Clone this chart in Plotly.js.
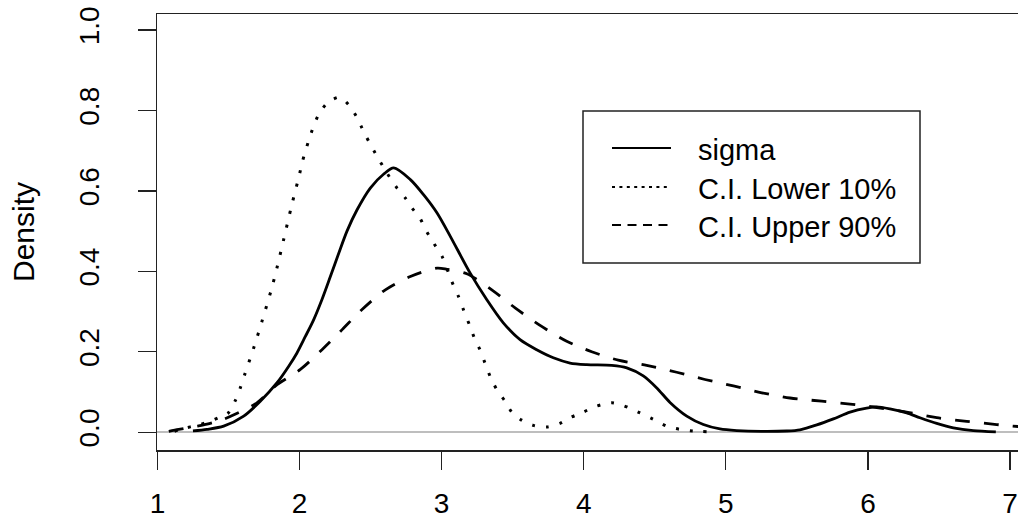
<!DOCTYPE html>
<html>
<head>
<meta charset="utf-8">
<script src="https://cdn.plot.ly/plotly-3.0.1.min.js"></script>
<style>html,body{margin:0;padding:0;background:#fff;}#chart{width:1018px;height:521px;}</style>
</head>
<body>
<div id="chart"></div>
<script>
// ---- data ----
const seriesNames = ["sigma", "C.I. Lower 10%", "C.I. Upper 90%"];

const sigmaX = [1.25,1.349,1.466,1.607,1.724,1.842,1.924,1.982,2.041,2.10,2.158,2.217,2.276,2.334,2.405,2.498,2.593,2.663,2.78,2.874,2.968,3.061,3.2,3.317,3.434,3.552,3.669,3.786,3.904,4.021,4.197,4.303,4.419,4.514,4.607,4.725,4.842,4.959,5.077,5.25,5.429,5.522,5.64,5.757,5.874,5.991,6.062,6.155,6.273,6.366,6.484,6.601,6.742,6.9];
const sigmaY = [0.003,0.007,0.015,0.040,0.077,0.123,0.164,0.197,0.238,0.280,0.330,0.387,0.445,0.500,0.553,0.607,0.642,0.657,0.628,0.590,0.545,0.487,0.396,0.330,0.272,0.230,0.205,0.185,0.172,0.168,0.166,0.160,0.140,0.110,0.074,0.040,0.019,0.008,0.004,0.002,0.003,0.006,0.018,0.033,0.050,0.060,0.063,0.058,0.048,0.036,0.022,0.011,0.004,0.001];

const lowerX = [1.12,1.159,1.30,1.37,1.429,1.499,1.546,1.581,1.612,1.678,1.736,1.806,1.842,1.889,1.942,1.999,2.022,2.088,2.135,2.20,2.283,2.346,2.40,2.44,2.487,2.533,2.616,2.686,2.745,2.792,2.848,2.885,2.944,3.003,3.071,3.118,3.153,3.2,3.235,3.27,3.305,3.341,3.388,3.446,3.493,3.563,3.645,3.739,3.833,3.904,3.997,4.091,4.197,4.279,4.396,4.49,4.584,4.678,4.771,4.865];
const lowerY = [0.002,0.007,0.019,0.027,0.036,0.048,0.077,0.108,0.141,0.210,0.276,0.360,0.410,0.480,0.560,0.640,0.675,0.750,0.790,0.820,0.833,0.814,0.785,0.756,0.723,0.694,0.644,0.607,0.582,0.557,0.532,0.505,0.470,0.437,0.375,0.338,0.305,0.263,0.230,0.205,0.172,0.139,0.106,0.077,0.050,0.030,0.017,0.013,0.022,0.036,0.050,0.065,0.073,0.066,0.048,0.032,0.015,0.007,0.003,0.001];

const upperX = [1.08,1.15,1.277,1.349,1.45,1.55,1.70,1.842,2.006,2.158,2.30,2.44,2.604,2.78,2.968,3.038,3.177,3.353,3.517,3.704,3.88,4.056,4.243,4.443,4.654,4.853,5.053,5.253,5.452,5.675,5.874,6.05,6.242,6.484,6.695,6.906,7.06];
const upperY = [0.002,0.007,0.015,0.020,0.030,0.045,0.073,0.118,0.156,0.205,0.255,0.305,0.354,0.387,0.408,0.405,0.394,0.354,0.309,0.263,0.226,0.200,0.179,0.166,0.149,0.131,0.115,0.098,0.085,0.077,0.070,0.062,0.052,0.036,0.027,0.019,0.014];

const xTicks = [1,2,3,4,5,6,7];
const yTicks = [0,0.2,0.4,0.6,0.8,1.0];
const yTickText = ["0.0","0.2","0.4","0.6","0.8","1.0"];
const yTitle = "Density";

// ---- styles ----
const FONT = "Liberation Sans, Arial, sans-serif";
const W = 1018, H = 521;
const M = {l:157, r:0, t:14, b:71};
const PW = W - M.l - M.r, PH = H - M.t - M.b;
const px = v => (v - M.l) / PW;          // pixel -> paper x
const py = v => (H - M.b - v) / PH;      // pixel -> paper y

const styles = [
  {dash:"solid", width:2.8},
  {dash:"3px,11px", width:3},
  {dash:"15px,14px", width:2.8}
];
const legendDash = ["solid", "3px,4.4px", "9px,6.5px"];

const traces = [
  {x:sigmaX, y:sigmaY},
  {x:lowerX, y:lowerY},
  {x:upperX, y:upperY}
].map((d,i) => ({
  type:"scatter", mode:"lines", x:d.x, y:d.y, name:seriesNames[i],
  line:{color:"#000", width:styles[i].width, dash:styles[i].dash, shape:"spline", smoothing:0.8},
  showlegend:false, hoverinfo:"skip"
}));

// manual R-style legend
const shapes = [{
  type:"rect", xref:"paper", yref:"paper",
  x0:px(583), x1:px(920), y0:py(263), y1:py(111),
  line:{color:"#222", width:1.5}, fillcolor:"rgba(0,0,0,0)"
}];
const annotations = [];
const rowY = [148, 187, 225];
seriesNames.forEach((n,i) => {
  shapes.push({type:"line", xref:"paper", yref:"paper",
    x0:px(612), x1:px(671), y0:py(rowY[i]), y1:py(rowY[i]),
    line:{color:"#000", width:2, dash:legendDash[i]}});
  annotations.push({xref:"paper", yref:"paper", x:px(696), y:py(rowY[i]+2),
    xanchor:"left", yanchor:"middle", showarrow:false, text:n,
    font:{family:FONT, size:29, color:"#000"}});
});

const layout = {
  width:W, height:H, margin:{l:M.l, r:M.r, t:M.t, b:M.b, pad:0},
  paper_bgcolor:"#fff", plot_bgcolor:"#fff", showlegend:false,
  font:{family:FONT, size:29, color:"#000"},
  xaxis:{range:[0.997, 7.056], tickmode:"array", tickvals:xTicks, ticktext:xTicks.map(String),
    ticks:"outside", ticklen:18, tickwidth:1.3, tickcolor:"#222",
    showline:true, linecolor:"#222", linewidth:1.5, mirror:true,
    showgrid:false, zeroline:false, ticklabeloverflow:"allow", ticklabelstandoff:10,
    tickfont:{family:FONT, size:28, color:"#000"}},
  yaxis:{range:[-0.0443, 1.0398], tickmode:"array", tickvals:yTicks, ticktext:yTickText,
    tickangle:-90, ticks:"outside", ticklen:18, tickwidth:1.3, tickcolor:"#222",
    showline:true, linecolor:"#222", linewidth:1.5, mirror:false,
    showgrid:false, zeroline:true, zerolinecolor:"#bebebe", zerolinewidth:1.5,
    ticklabelstandoff:27, ticklabeloverflow:"allow",
    tickfont:{family:FONT, size:28, color:"#000"},
    title:{text:yTitle, font:{family:FONT, size:30, color:"#000"}, standoff:31}},
  shapes:shapes, annotations:annotations
};

Plotly.newPlot("chart", traces, layout, {staticPlot:true, displayModeBar:false});
</script>
</body>
</html>
